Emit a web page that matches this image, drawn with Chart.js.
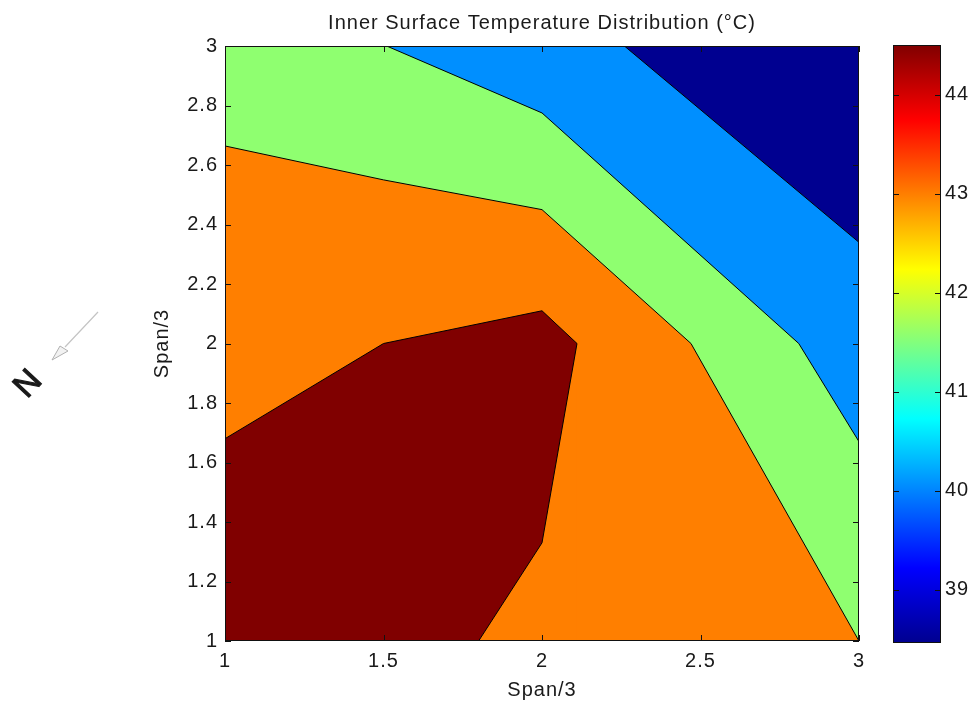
<!DOCTYPE html>
<html>
<head>
<meta charset="utf-8">
<title>Inner Surface Temperature Distribution</title>
<script src="https://cdn.jsdelivr.net/npm/chart.js@4/dist/chart.umd.min.js"></script>
<style>
    html, body { margin: 0; padding: 0; background: #fff; }
    #wrap { position: relative; width: 973px; height: 707px; overflow: hidden; }
    canvas { position: absolute; top: 0; }
    #north {
        position: absolute; left: 9px; top: 364px; width: 36px; text-align: center;
        font: 33px/38px "Liberation Sans", Arial, sans-serif; color: #1a1a1a;
        -webkit-text-stroke: 1.2px #1a1a1a; transform: rotate(-47deg);
    }
    #arrow { position: absolute; left: 45px; top: 305px; }
</style>
</head>
<body>
<div id="wrap">
    <canvas id="contour" width="973" height="707" style="left:0"></canvas>
    <canvas id="colorbar" width="113" height="707" style="left:860px"></canvas>
    <div id="north">N</div>
    <svg id="arrow" width="60" height="60">
        <path d="M53 7 L20 42" stroke="#c4c4c4" stroke-width="1.2" fill="none"/>
        <path d="M7 55 L15 41 L23 46 Z" stroke="#b0b0b0" stroke-width="1" fill="#f2f2f2"/>
    </svg>
</div>
<script>
    const chartTitle = 'Inner Surface Temperature Distribution (°C)';
    const axisLabel = 'Span/3';
    const xTicks = [1, 1.5, 2, 2.5, 3];
    const yTicks = [1, 1.2, 1.4, 1.6, 1.8, 2, 2.2, 2.4, 2.6, 2.8, 3];
    const barTicks = [39, 40, 41, 42, 43, 44];
    const barRange = [38.46, 44.5];

    // contour lines
    const navyX = [1, 3];
    const navyY = [3, 3];
    const blueX = [1, 2.26, 3];
    const blueY = [3, 3, 2.34];
    const greenX = [1, 1.51, 2, 2.81, 3];
    const greenY = [3, 3, 2.775, 2, 1.67];
    const orangeX = [1, 1.5, 2, 2.47, 3];
    const orangeY = [2.664, 2.55, 2.45, 2, 1];
    const darkRedX = [1, 1.5, 2, 2.1104];
    const darkRedY = [1.68, 2, 2.11, 2];
    const lowerEdgeX = [1.8, 2, 2.1104];
    const lowerEdgeY = [1, 1.33, 2];

    const font = { family: '"Liberation Sans", Arial, sans-serif', size: 20 };
    const textColor = '#1a1a1a';

    function band(xs, ys, color) {
        return {
            data: xs.map((x, i) => ({ x: x, y: ys[i] })),
            showLine: true,
            borderColor: '#000',
            borderWidth: 1,
            pointRadius: 0,
            backgroundColor: color,
            fill: 'start'
        };
    }

    function setTicks(list) {
        return scale => { scale.ticks = list.map(v => ({ value: v })); };
    }

    // the old matlab image has wide text, chart.js has no option for that
    const spacing = {
        id: 'spacing',
        beforeUpdate(chart) { chart.ctx.letterSpacing = '1px'; },
        beforeDraw(chart) { chart.ctx.letterSpacing = '1px'; }
    };

    // matlab style frame with ticks pointing inwards
    const frame = {
        id: 'frame',
        afterDraw(chart) {
            const { ctx, chartArea: a, scales } = chart;
            ctx.save();
            ctx.strokeStyle = '#111';
            ctx.lineWidth = 1;
            ctx.strokeRect(a.left + 0.5, a.top + 0.5, a.right - a.left - 1, a.bottom - a.top - 1);
            ctx.beginPath();
            if (scales.x && scales.x.options.display) {
                scales.x.ticks.forEach(t => {
                    const p = Math.round(scales.x.getPixelForValue(t.value)) + 0.5;
                    ctx.moveTo(p, a.bottom); ctx.lineTo(p, a.bottom - 6);
                    ctx.moveTo(p, a.top); ctx.lineTo(p, a.top + 6);
                });
            }
            scales.y.ticks.forEach(t => {
                const p = Math.round(scales.y.getPixelForValue(t.value)) + 0.5;
                ctx.moveTo(a.left, p); ctx.lineTo(a.left + 6, p);
                ctx.moveTo(a.right, p); ctx.lineTo(a.right - 6, p);
            });
            ctx.stroke();
            ctx.restore();
        }
    };

    new Chart(document.getElementById('contour'), {
        type: 'scatter',
        data: {
            datasets: [
                band(lowerEdgeX, lowerEdgeY, '#ff7f00'),
                band(darkRedX, darkRedY, '#800000'),
                band(orangeX, orangeY, '#ff7f00'),
                band(greenX, greenY, '#8fff70'),
                band(blueX, blueY, '#008fff'),
                band(navyX, navyY, '#000090')
            ]
        },
        plugins: [spacing, frame],
        options: {
            responsive: false,
            animation: false,
            layout: { padding: { left: 125, right: 114, top: 0, bottom: 0 } },
            plugins: {
                legend: { display: false },
                tooltip: { enabled: false },
                title: {
                    display: true,
                    text: chartTitle,
                    fullSize: false,
                    color: textColor,
                    font: { ...font, weight: 'normal', lineHeight: 22 / 20 },
                    padding: { top: 12, bottom: 12 }
                }
            },
            scales: {
                x: {
                    type: 'linear',
                    min: 1,
                    max: 3,
                    afterBuildTicks: setTicks(xTicks),
                    afterFit: s => { s.height = 66; },
                    grid: { display: false, drawTicks: false },
                    border: { display: false },
                    ticks: { color: textColor, font: font, padding: 8, maxRotation: 0, autoSkip: false, callback: v => String(v) },
                    title: { display: true, text: axisLabel, color: textColor, font: font, padding: { top: 0, bottom: 5 } }
                },
                y: {
                    type: 'linear',
                    min: 1,
                    max: 3,
                    afterBuildTicks: setTicks(yTicks),
                    afterFit: s => { s.width = 100; },
                    grid: { display: false, drawTicks: false },
                    border: { display: false },
                    ticks: { color: textColor, font: font, padding: 7, autoSkip: false, callback: v => String(v) },
                    title: { display: true, text: axisLabel, color: textColor, font: font, padding: { top: 25, bottom: 0 } }
                }
            }
        }
    });

    // jet colormap stops
    const jetStops = [
        [0, '#00008f'], [0.125, '#0000ff'], [0.375, '#00ffff'],
        [0.625, '#ffff00'], [0.875, '#ff0000'], [1, '#800000']
    ];

    function jetGradient(context) {
        const area = context.chart.chartArea;
        if (!area) return '#0000ff';
        const g = context.chart.ctx.createLinearGradient(0, area.bottom, 0, area.top);
        jetStops.forEach(s => g.addColorStop(s[0], s[1]));
        return g;
    }

    new Chart(document.getElementById('colorbar'), {
        type: 'bar',
        data: {
            labels: ['T'],
            datasets: [{
                data: [barRange],
                backgroundColor: jetGradient,
                barPercentage: 1,
                categoryPercentage: 1
            }]
        },
        plugins: [spacing, frame],
        options: {
            responsive: false,
            animation: false,
            layout: { padding: { left: 33, right: 0, top: 45, bottom: 64 } },
            plugins: { legend: { display: false }, tooltip: { enabled: false } },
            scales: {
                x: { display: false },
                y: {
                    position: 'right',
                    min: barRange[0],
                    max: barRange[1],
                    afterBuildTicks: setTicks(barTicks),
                    afterFit: s => { s.width = 32; },
                    grid: { display: false, drawTicks: false },
                    border: { display: false },
                    ticks: { color: textColor, font: font, padding: 4, autoSkip: false, callback: v => String(v) }
                }
            }
        }
    });
</script>
</body>
</html>
